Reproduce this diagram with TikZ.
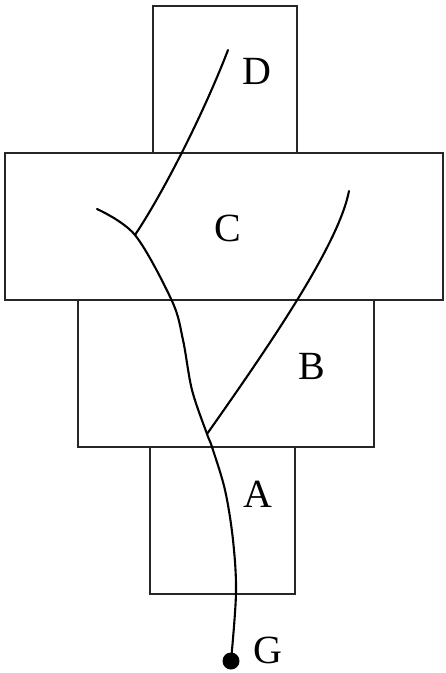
\documentclass[tikz,border=0pt]{standalone}
\usepackage{fontspec}
\setmainfont{Liberation Serif}
\begin{document}
\begin{tikzpicture}[x=1pt,y=-1pt,
  boxnode/.style={draw=black!85,line width=2.4pt,rectangle,inner sep=0pt,outer sep=0pt},
  lbl/.style={font=\fontsize{40}{44}\selectfont,inner sep=0pt},
  curve/.style={line width=2.1pt,line cap=round},
  dotnode/.style={circle,fill=black,inner sep=0pt,minimum size=17pt}]
\useasboundingbox (0,0) rectangle (446,673);
% boxes
\node[boxnode,minimum width=144pt,minimum height=147pt] (boxD) at (225,79.5) {};
\node[boxnode,minimum width=438pt,minimum height=147pt] (boxC) at (224,226.5) {};
\node[boxnode,minimum width=296pt,minimum height=147pt] (boxB) at (226,373.5) {};
\node[boxnode,minimum width=145pt,minimum height=147pt] (boxA) at (222.5,520.5) {};
% labels
\node[lbl] (lD) at (257,71) {D};
\node[lbl] (lC) at (228,228) {C};
\node[lbl] (lB) at (312,366) {B};
\node[lbl] (lA) at (258,494) {A};
\node[lbl] (lG) at (268,650) {G};
% dot
\node[dotnode] (g) at (231,661) {};
% branch points and ends
\coordinate (bAB) at (207,434);
\coordinate (bC) at (135,235);
\coordinate (endL) at (97,209);
\coordinate (endD) at (228,50);
\coordinate (endR) at (349,191);
% trunk
\draw[curve] plot[smooth,tension=0.55] coordinates {(g.center) (236,593) (233,540) (225,490) (212,447) (bAB) (192,390) (183,340) (172,301) (bC) (endL)};
% branch to D
\draw[curve] (bC) .. controls (165,190) and (205,110) .. (endD);
% branch right
\draw[curve] (bAB) .. controls (269,346) and (338.5,245) .. (endR);
\end{tikzpicture}
\end{document}
